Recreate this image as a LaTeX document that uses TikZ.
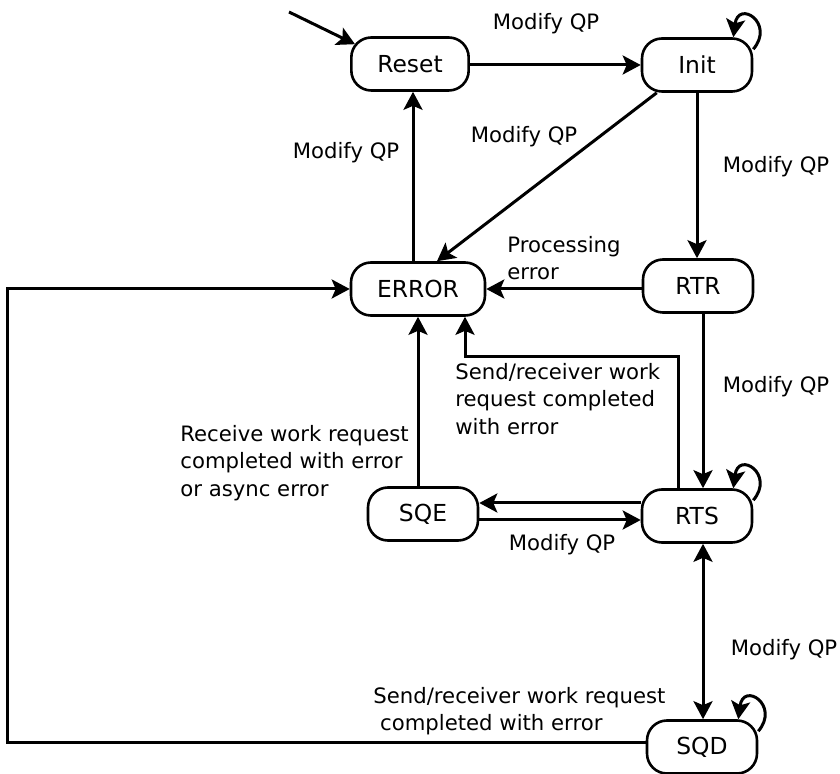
\documentclass[tikz,border=0pt]{standalone}
\usepackage{fontspec}
\setmainfont{DejaVu Sans}
\usepackage{tikz}
\usetikzlibrary{arrows.meta}

\begin{document}
\begin{tikzpicture}[x=0.5pt,y=-0.5pt,
  state/.style={draw, line width=1.3pt, rounded corners=10pt, minimum width=55pt,
    minimum height=26.5pt, inner xsep=13pt, font=\fontsize{11.7}{14}\selectfont},
  lbl/.style={inner sep=0pt, align=left, font=\fontsize{10.6}{13.8}\selectfont},
  arr/.style={-{Stealth[length=9pt,width=9.5pt,inset=2pt]}, line width=1.5pt},
  both/.style={{Stealth[length=9pt,width=9.5pt,inset=2pt]}-{Stealth[length=9pt,width=9.5pt,inset=2pt]}, line width=1.5pt}]
\useasboundingbox (0,0) rectangle (840,774);

\node[state] (Reset) at (410,64) {Reset};
\node[state] (Init) at (697,65) {Init};
\node[state] (ERROR) at (418,289) {ERROR};
\node[state] (RTR) at (698,286) {RTR};
\node[state] (SQE) at (423,514) {SQE};
\node[state] (RTS) at (697,516) {RTS};
\node[state] (SQD) at (702,747) {SQD};

\coordinate (entry) at (289,12);
\draw[arr] (entry) -- ([xshift=2.5pt,yshift=-4pt]Reset.north west);

\draw[arr] (Reset.east |- Init.west) -- (Init.west);
\node[lbl] (lResetInit) at (546,24) {Modify QP};

\draw[arr] ([yshift=-6pt]Init.north east) .. controls +(22,-26) and +(5,-38) .. ([xshift=-10pt]Init.north east);

\draw[arr] ([xshift=8pt]Init.south west) -- ([xshift=9.5pt]ERROR.north);
\node[lbl] (lInitErr) at (524,137) {Modify QP};

\draw[arr] (Init) -- (Init |- RTR.north);
\node[lbl] (lInitRTR) at (776,167) {Modify QP};

\draw[arr] ([xshift=-2.5pt]ERROR.north) -- ([xshift=-2.5pt]ERROR.north |- Reset.south);
\node[lbl] (lErrReset) at (346,153) {Modify QP};

\draw[arr] (RTR.west |- ERROR.east) -- (ERROR.east);
\node[lbl, anchor=west] (lProc) at (507,258) {Processing\\error};

\draw[arr] ([xshift=2.5pt]RTR.south) -- ([xshift=2.5pt]RTR.south |- RTS.north);
\node[lbl] (lRTRRTS) at (776,387) {Modify QP};

\draw[arr] ([xshift=-9.5pt]RTS.north) -- ++(0,-132) -| ([xshift=23.5pt]ERROR.south);
\node[lbl, anchor=west] (lSendErr) at (455,399) {Send/receiver work\\request completed\\with error};

\draw[arr] (SQE.north -| ERROR.south) -- (ERROR.south);
\node[lbl, anchor=west] (lRecv) at (180,463) {Receive work request\\completed with error\\or async error};

\draw[arr] ([yshift=6.5pt]RTS.west) -- ([yshift=6.5pt]RTS.west -| SQE.east);
\draw[arr] ([yshift=-2pt]RTS.west -| SQE.east) -- ([yshift=-2pt]RTS.west);
\node[lbl] (lSQE) at (562,545) {Modify QP};

\draw[arr] ([yshift=-6pt]RTS.north east) .. controls +(22,-26) and +(5,-38) .. ([xshift=-10pt]RTS.north east);

\draw[both] ([xshift=3pt]RTS.south) -- ([xshift=3pt]RTS.south |- SQD.north);
\node[lbl] (lSQD) at (784,650) {Modify QP};

\draw[arr] ([yshift=-6pt]SQD.north east) .. controls +(22,-26) and +(5,-38) .. ([xshift=-10pt]SQD.north east);

\draw[arr] ([yshift=2.5pt]SQD.west) -- ++(-638,0) |- (ERROR.west);
\node[lbl, anchor=west] (lSQDErr) at (373,711) {Send/receiver work request\\\hspace*{3.4pt}completed with error};

\end{tikzpicture}
\end{document}
